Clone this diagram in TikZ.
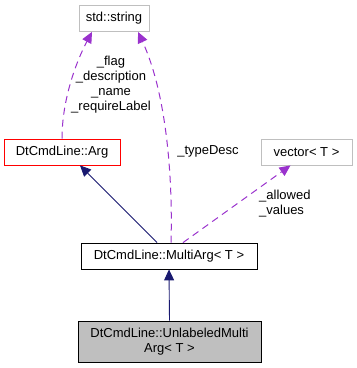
\documentclass[tikz,border=0pt]{standalone}
\usepackage{fontspec}
\setmainfont{Liberation Sans}
\usetikzlibrary{arrows.meta, positioning}
\definecolor{usedpurple}{HTML}{9A32CD}
\definecolor{inhnavy}{HTML}{191970}
\definecolor{boxgray}{HTML}{BFBFBF}
\tikzset{
    cls/.style={draw=black, fill=white, line width=0.8pt, inner sep=0pt, align=center, font=\fontsize{13}{15}\selectfont, minimum height=26pt},
    extcls/.style={cls, draw=boxgray},
    basecls/.style={cls, draw=red},
    focuscls/.style={cls, fill=boxgray, minimum height=41pt},
    inh/.style={-{Triangle[length=11pt, width=10pt]}, line width=0.9pt, draw=inhnavy},
    dep/.style={-{Triangle[length=11pt, width=10pt]}, line width=1pt, draw=usedpurple, dash pattern=on 7pt off 5pt},
    lbl/.style={inner sep=0pt, font=\fontsize{13}{15}\selectfont}
}
\begin{document}
\begin{tikzpicture}[x=1pt, y=-1pt]
    \useasboundingbox (0,0) rectangle (357,368);

    % classes
    \node[extcls, minimum width=70pt] (string) at (114,18.5) {std::string};
    \node[basecls, minimum width=116pt] (arg) at (62,152) {DtCmdLine::Arg};
    \node[extcls, minimum width=91pt] (vector) at (306.5,152) {vector< T >};
    \node[cls, minimum width=176pt] (multi) at (169,256) {DtCmdLine::MultiArg< T >};
    \node[focuscls, minimum width=183pt] (unlabeled) at (169.5,341.5) {DtCmdLine::UnlabeledMulti\\Arg< T >};

    % inheritance
    \draw[inh] ([xshift=-12pt]multi.north) -- ([xshift=18pt]arg.south);
    \draw[inh] (unlabeled.north) -- (multi.south);

    % usage
    \draw[dep] (arg.north) .. controls (62,100) and (76,62) .. ([xshift=-22pt]string.south);
    \draw[dep] ([xshift=2pt]multi.north) .. controls (173,170) and (165,90) .. ([xshift=24pt]string.south);
    \draw[dep] ([xshift=14pt]multi.north) -- ([xshift=-16pt]vector.south);

    % labels
    \node[lbl, align=center] (flaglbl) at (111,84.5) {\_flag\\\_description\\\_name\\\_requireLabel};
    \node[lbl] (typelbl) at (208,151) {\_typeDesc};
    \node[lbl, align=left, anchor=west] (allowedlbl) at (259,203.5) {\_allowed\\\_values};
\end{tikzpicture}
\end{document}
